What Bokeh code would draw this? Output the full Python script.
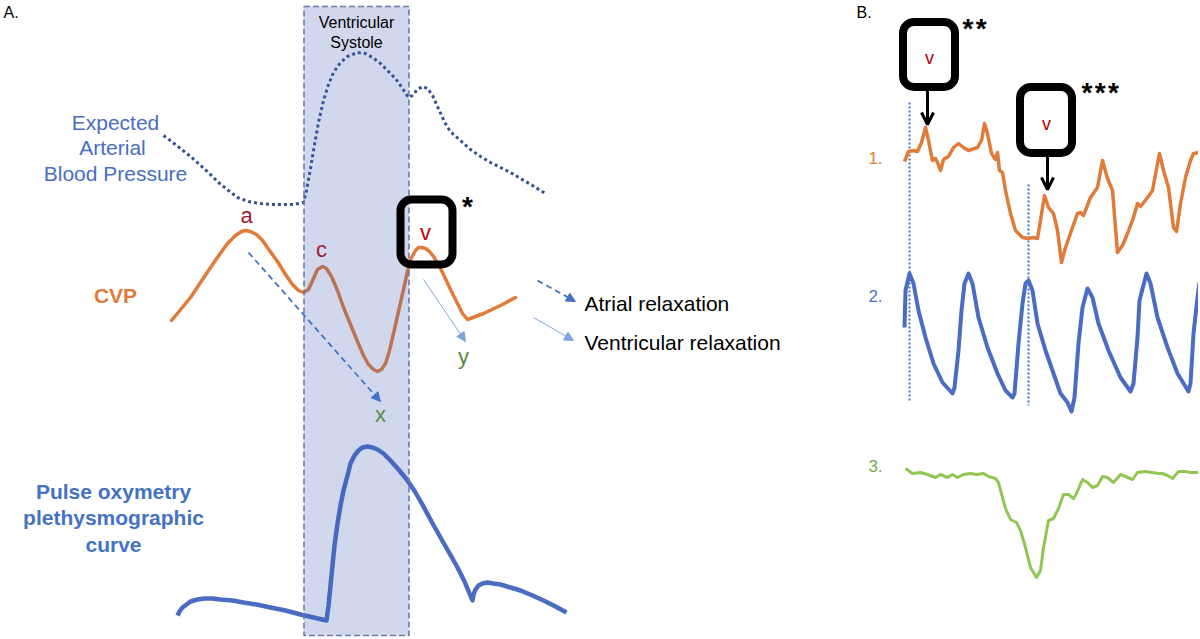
from bokeh.plotting import figure
from bokeh.models import Range1d, Arrow, NormalHead, OpenHead
from bokeh.core.properties import value
from bokeh.embed import file_html
from bokeh.resources import INLINE

FONT = value("Liberation Sans")

# ---------------- Panel A data (page pixel coordinates, y downwards) ----------------
abp_x = [163, 171, 180, 190, 199, 209, 218, 228, 237, 248, 260, 272, 283, 293, 303, 306, 310, 313, 318, 323, 328, 333,
         340, 347, 357, 365, 372, 380, 387, 395, 402, 408, 412, 417, 422, 427, 432, 437, 442, 447, 453, 460, 470, 480,
         490, 500, 510, 520, 532, 545]
abp_y = [135, 141, 148, 156, 164, 173, 182, 190, 197, 201, 203, 204, 204, 204, 202, 190, 168, 150, 122, 100, 84, 72,
         62, 56, 52, 53, 57, 63, 70, 78, 88, 97, 95, 89, 86, 88, 95, 106, 117, 127, 134, 140, 149, 156,
         162, 167, 172, 178, 185, 193]

cvp_x = [171, 181, 190, 200, 210, 219, 227, 235, 241, 245, 250, 256, 262, 269, 277, 285, 292, 298, 303, 308, 313, 317,
         322, 326, 331, 337, 343, 350, 357, 363, 368, 373, 377, 381, 385, 389, 393, 398, 403, 407, 411, 415, 418, 421,
         425, 429, 433, 438, 443, 450, 457, 462, 467, 475, 483, 500, 515]
cvp_y = [320, 308, 297, 282, 267, 254, 243, 235, 231, 230, 231, 234, 240, 250, 261, 274, 284, 290, 292, 289, 278, 269,
         266, 268, 276, 290, 307, 324, 341, 355, 364, 369, 371, 369, 363, 350, 333, 311, 289, 271, 257, 250, 247, 247,
         248, 251, 256, 264, 274, 289, 303, 313, 319, 316, 313, 305, 297]

pleth_x = [177, 179, 182, 186, 190, 197, 204, 212, 220, 232, 243, 256, 270, 285, 300, 313, 326, 328, 330, 332, 334, 337,
           340, 343, 347, 350, 354, 358, 362, 367, 372, 377, 383, 390, 398, 407, 415, 423, 431, 440, 448, 457, 464,
           472, 473, 475, 478, 482, 487, 493, 500, 510, 520, 532, 543, 555, 566]
pleth_y = [615, 611, 607, 604, 601, 599, 598, 598, 599, 600, 602, 604, 607, 610, 614, 617, 620, 605, 585, 565, 545, 523,
           505, 490, 475, 463, 455, 450, 447, 446, 447, 449, 453, 460, 469, 480, 492, 506, 521, 537, 551, 567, 581,
           600, 594, 589, 585, 583, 582, 583, 584, 587, 590, 595, 600, 606, 612]

# ---------------- Panel B data ----------------
b1_x = [904, 908, 913, 917, 921, 925, 928, 932, 935, 937, 940, 943, 948, 953, 958, 963, 968, 977, 981, 984, 987, 991,
        995, 997, 999, 1002, 1005, 1010, 1015, 1017, 1022, 1027, 1033, 1037, 1040, 1044, 1048, 1053, 1057, 1061,
        1065, 1072, 1077, 1080, 1083, 1090, 1097, 1102, 1107, 1112, 1117, 1122, 1127, 1133, 1137, 1140, 1147, 1152,
        1157, 1159, 1163, 1168, 1173, 1176, 1180, 1185, 1190, 1193, 1200]
b1_y = [161, 151, 150, 151, 142, 127, 140, 160, 158, 162, 170, 159, 156, 147, 143, 147, 150, 147, 140, 123, 133, 153,
        159, 152, 170, 172, 190, 213, 230, 232, 237, 238, 237, 238, 220, 195, 207, 213, 230, 262,
        247, 227, 213, 212, 215, 197, 187, 160, 178, 190, 252, 245, 233, 217, 203, 206, 197, 190,
        163, 153, 170, 187, 227, 231, 203, 177, 160, 153, 152]

b2_x = [904, 905, 909, 913, 918, 925, 933, 942, 952, 954, 958, 961, 964, 968, 972, 978, 987, 997, 1005, 1012, 1014,
        1018, 1022, 1025, 1028, 1032, 1037, 1045, 1053, 1060, 1067, 1071, 1074, 1078, 1082, 1087, 1092, 1098, 1108,
        1120, 1130, 1133, 1137, 1139, 1146, 1150, 1157, 1167, 1177, 1188, 1190, 1193, 1197, 1199]
b2_y = [327, 290, 273, 283, 310, 337, 363, 382, 393, 387, 350, 310, 283, 273, 283, 317, 347, 373, 390, 397, 393,
        343, 303, 283, 280, 290, 323, 350, 373, 393, 402, 411, 397, 343, 307, 288, 297, 323, 350,
        377, 391, 383, 337, 300, 273, 283, 317, 347, 373, 391, 383, 333, 297, 282]

b3_x = [905, 912, 920, 927, 935, 940, 947, 952, 957, 963, 970, 976, 983, 988, 995, 998, 1002, 1005, 1010, 1016, 1020,
        1025, 1030, 1036, 1040, 1043, 1048, 1053, 1058, 1063, 1068, 1073, 1076, 1082, 1087, 1092, 1097, 1102, 1107,
        1113, 1120, 1125, 1132, 1137, 1145, 1152, 1158, 1162, 1167, 1172, 1178, 1185, 1190, 1200]
b3_y = [468, 473, 472, 474, 477, 474, 477, 474, 477, 474, 473, 474, 473, 476, 478, 482, 497, 508, 519, 522, 530,
        547, 567, 577, 570, 547, 520, 518, 508, 494, 494, 498, 493, 479, 482, 487, 485, 476, 477,
        482, 474, 476, 479, 472, 471, 472, 473, 473, 475, 478, 471, 471, 472, 472]

# annotation geometry
systole_band = dict(left=303.5, right=408.5, top=6, bottom=635)
box_left = [400, 902.5, 1019.5]
box_right = [452, 954.5, 1071.5]
box_top = [199, 21.5, 86.5]
box_bottom = [264, 86.5, 152.5]

W, H = 1198, 637
p = figure(width=W, height=H, x_range=Range1d(0, W), y_range=Range1d(H, 0),
           output_backend="svg", toolbar_location=None, min_border=0,
           x_axis_type=None, y_axis_type=None)
p.grid.visible = False
p.outline_line_color = None
p.background_fill_color = "white"
p.border_fill_color = "white"

# curves (drawn before the translucent systole band)
p.line(abp_x, abp_y, line_color="#34528f", line_width=3, line_dash="3 3")
p.line(cvp_x, cvp_y, line_color="#E07B39", line_width=3.5, line_join="round", line_cap="round")
p.line(pleth_x, pleth_y, line_color="#4A6CC3", line_width=4.5, line_join="round")

# systole band
p.quad(left=[systole_band["left"]], right=[systole_band["right"]], top=[systole_band["top"]],
       bottom=[systole_band["bottom"]], fill_color="#3D5DB5", fill_alpha=0.24,
       line_color="#6B7BAA", line_width=1.6, line_dash="6 3")

# arrows panel A
p.add_layout(Arrow(end=NormalHead(size=9, fill_color="#4472C4", line_color="#4472C4"),
                   x_start=248, y_start=252, x_end=380, y_end=401,
                   line_color="#4472C4", line_width=1.8, line_dash="6 4"))
p.add_layout(Arrow(end=NormalHead(size=9, fill_color="#7EA6DC", line_color="#7EA6DC"),
                   x_start=423, y_start=279, x_end=465, y_end=341,
                   line_color="#7EA6DC", line_width=1))
p.add_layout(Arrow(end=NormalHead(size=9, fill_color="#4472C4", line_color="#4472C4"),
                   x_start=537, y_start=280, x_end=575, y_end=301,
                   line_color="#4472C4", line_width=1.8, line_dash="6 4"))
p.add_layout(Arrow(end=NormalHead(size=9, fill_color="#7EA6DC", line_color="#7EA6DC"),
                   x_start=533, y_start=317, x_end=573, y_end=340,
                   line_color="#7EA6DC", line_width=1))

# panel B traces
p.line([909, 909], [102, 400], line_color="#4472C4", line_width=2, line_dash="2 2")
p.line([1028, 1028], [184, 405], line_color="#4472C4", line_width=2, line_dash="2 2")
p.line(b1_x, b1_y, line_color="#E07B39", line_width=3.5, line_join="round")
p.line(b2_x, b2_y, line_color="#4A6CC3", line_width=4, line_join="round")
p.line(b3_x, b3_y, line_color="#92C653", line_width=3, line_join="round")

# rounded boxes
p.quad(left=box_left, right=box_right, top=box_top, bottom=box_bottom, fill_color=None,
       line_color="black", line_width=8, border_radius=11)

# black arrows in panel B
p.add_layout(Arrow(end=OpenHead(size=12, line_width=3, line_color="black"),
                   x_start=927, y_start=90, x_end=927, y_end=124, line_color="black", line_width=3))
p.add_layout(Arrow(end=OpenHead(size=12, line_width=3, line_color="black"),
                   x_start=1047, y_start=156, x_end=1047, y_end=189, line_color="black", line_width=3))

# texts
def txt(xs, ys, labels, size, color, style="normal", align="center"):
    p.text(x=xs, y=ys, text=labels, text_font=FONT, text_font_size=f"{size}px",
           text_color=color, text_font_style=style, text_align=align, text_baseline="middle")

HS = "\u200a"
txt([3], [12], ["A."], 16, "black", align="left")
txt([856], [12], ["B."], 16, "black", align="left")
txt([356, 356], [22, 42], ["Ventricular", "Systole"], 16, "black")
txt([115, 112, 115], [122, 147, 173], ["Expected", "Arterial", "Blood Pressure"], 21, "#4A6EC0")
txt([115], [295], ["CVP"], 21, "#E07B39", style="bold")
txt([113, 113, 113], [491, 517, 544], ["Pulse oxymetry", "plethysmographic", "curve"], 21, "#4472C4", style="bold")
txt([246, 321], [215, 249], ["a", "c"], 22, "#A3172D")
txt([425], [232], ["v"], 22, "#C00000")
txt([380, 463], [414, 356], ["x", "y"], 22, "#5A8A3C")
txt([584, 584], [303, 342], ["Atrial relaxation", "Ventricular relaxation"], 21, "black", align="left")
txt([467], [206], ["*"], 28, "black", style="bold")
txt([962], [28], [HS.join("**")], 28, "black", style="bold", align="left")
txt([1081], [92], [HS.join("***")], 28, "black", style="bold", align="left")
txt([929, 1046], [57, 123], ["v", "v"], 18, "#B00000")
txt([875], [157], ["1."], 17, "#E07B39")
txt([875], [295], ["2."], 17, "#4472C4")
txt([875], [465], ["3."], 17, "#70AD47")

open("out.html", "w").write(file_html(p, INLINE))
